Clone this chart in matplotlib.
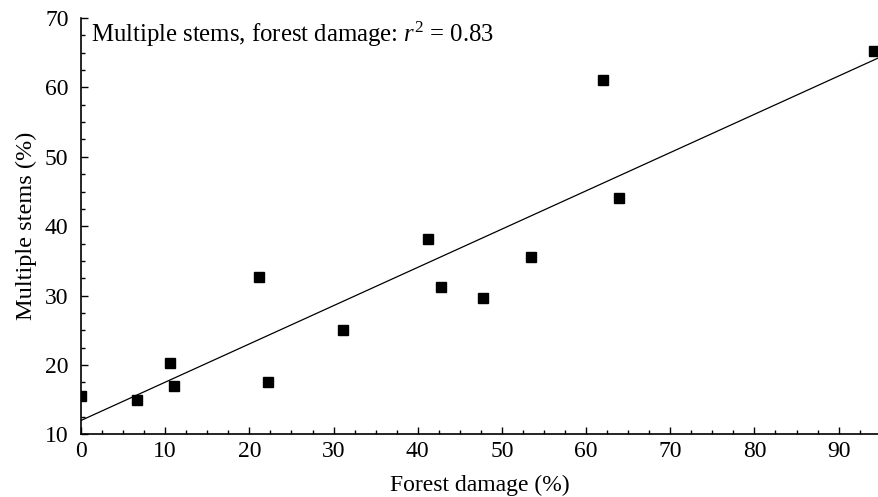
import numpy as np
import matplotlib.pyplot as plt
from matplotlib.ticker import MultipleLocator

# Values
forest_damage = [0, 6.6, 10.6, 11.0, 21.1, 22.2, 31.1, 41.2, 42.8, 47.7, 53.5, 62.0, 63.9, 94.2]
multiple_stems = [15.6, 14.9, 20.3, 17.0, 32.7, 17.5, 25.0, 38.2, 31.3, 29.7, 35.6, 61.1, 44.1, 65.3]

x_ticks = [0, 10, 20, 30, 40, 50, 60, 70, 80, 90]
y_ticks = [10, 20, 30, 40, 50, 60, 70]

plt.rcParams['font.family'] = 'Liberation Serif'
plt.rcParams['mathtext.fontset'] = 'custom'
plt.rcParams['mathtext.rm'] = 'Liberation Serif'
plt.rcParams['mathtext.it'] = 'Liberation Serif:italic'

fig = plt.figure(figsize=(8.79, 4.97), dpi=100)
ax = fig.add_axes([0.0922, 0.1258, 0.9078, 0.838])

# least squares line through the points
slope, intercept = np.polyfit(forest_damage, multiple_stems, 1)
xs = np.array([0, 94.8])
ax.plot(xs, intercept + slope * xs, color='black', lw=0.9)

ax.plot(forest_damage, multiple_stems, 's', color='black', markersize=6.5)

ax.set_xlim(0, 94.8)
ax.set_ylim(10, 70)
ax.set_xticks(x_ticks)
ax.set_yticks(y_ticks)
ax.xaxis.set_minor_locator(MultipleLocator(2.5))
ax.yaxis.set_minor_locator(MultipleLocator(2.5))

for side in ['top', 'right']:
    ax.spines[side].set_visible(False)
for side in ['left', 'bottom']:
    ax.spines[side].set_linewidth(1.2)

ax.tick_params(which='major', direction='in', length=5, width=1.0, labelsize=17)
ax.tick_params(which='minor', direction='in', length=3, width=1.0)
ax.tick_params(axis='x', which='major', pad=5)
ax.tick_params(axis='y', which='major', pad=9)

ax.set_xlabel('Forest damage (%)', fontsize=17, labelpad=9)
ax.set_ylabel('Multiple stems (%)', fontsize=17.5, labelpad=6)

ax.text(0.013, 0.997, r'Multiple stems, forest damage: $\mathit{r}^2$ = 0.83',
        transform=ax.transAxes, ha='left', va='top', fontsize=17.8)

fig.savefig('out.png', dpi=100)
